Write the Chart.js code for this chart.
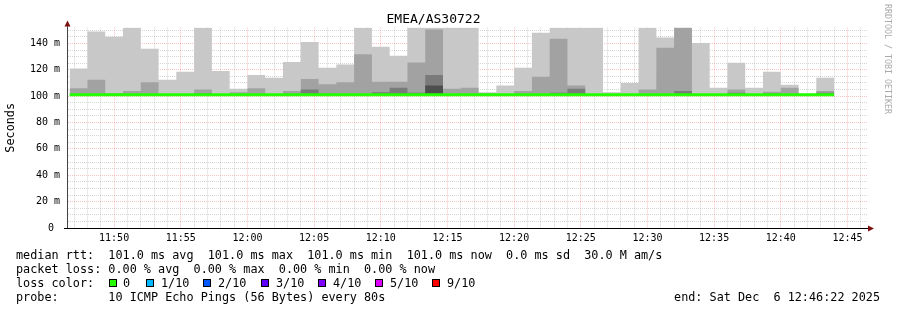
<!DOCTYPE html>
<html>
<head>
<meta charset="utf-8">
<script src="https://cdn.jsdelivr.net/npm/chart.js@4.4.0/dist/chart.umd.min.js"></script>
<style>
  body { margin: 0; background: #fff; }
  #wrap { position: relative; width: 897px; height: 310px; overflow: hidden; }
  #chartBox { position: absolute; left: 0; top: 0; width: 897px; height: 310px; }
  .mono { position: absolute; font-family: 'DejaVu Sans Mono', monospace; font-size: 11.8px; line-height: 14px; color: #000; white-space: pre; }
  .box { position: absolute; top: 279px; width: 6px; height: 6px; border: 1px solid #000; }
  #credit { position: absolute; left: 883px; top: 4px; writing-mode: vertical-rl; font-family: 'DejaVu Sans Mono', monospace; font-size: 8.3px; color: #aaa; white-space: pre; }
</style>
</head>
<body>
<div id="wrap">
  <div id="chartBox"><canvas id="smoke"></canvas></div>
  <div id="credit">RRDTOOL / TOBI OETIKER</div>
  <div class="mono" style="left:16px; top:248px;">median rtt:  101.0 ms avg  101.0 ms max  101.0 ms min  101.0 ms now  0.0 ms sd  30.0 M am/s
packet loss: 0.00 % avg  0.00 % max  0.00 % min  0.00 % now
loss color:
probe:       10 ICMP Echo Pings (56 Bytes) every 80s</div>
  <div class="mono" style="right:17px; top:290px;">end: Sat Dec  6 12:46:22 2025</div>
  <div id="lossLegend"></div>
</div>
<script>
// time window of the graph and sample layout (80 s steps)
const axisStart = '11:46:28';
const axisEnd = '12:46:28';
const sampleStart = '11:46:40';
const stepSeconds = 80;

// smoke bands, ms: outer pair (max), 2nd, 3rd, 4th pair tops
const maxRtt = [121, 149, 145, 152, 136, 112.5, 118.5, 152, 119, 105.6, 116, 114, 126, 141, 121.6,
  124, 152, 137.5, 130.7, 152, 152, 152, 152, 103, 108, 121.6, 148, 152, 152, 152, 103, 110, 152,
  144.4, 152, 140.3, 106.4, 125.4, 106.4, 118.5, 108.7, 101.8, 114];
const band2 = [106, 112.5, 102, 104, 110.5, 101.5, 101.5, 105, 101.5, 103, 106, 101.5, 104, 113, 109,
  110.5, 131.7, 111, 111, 125.6, 150.5, 105.6, 106.4, 102, 101.5, 104, 114.7, 143.6, 108, 101.5, 101,
  101.5, 105, 136.8, 152, 101, 101, 105, 101.5, 103.3, 106.4, 101, 104];
const band3 = [null, null, null, null, null, null, null, 102, null, null, null, null, null, 105, 102,
  null, null, 103, 106.4, 102.5, 116, null, null, null, null, null, null, 102.6, 105.6, null, null,
  null, null, null, 104, null, null, 102.6, null, 102, null, null, 102.6];
const band4 = [null, null, null, null, null, null, null, null, null, null, null, null, null, null, null,
  null, null, null, null, null, 108, null, null, null, null, null, null, null, null, null, null,
  null, null, null, null, null, null, null, null, null, null, null, null];
const medianRtt = [101, 101, 101, 101, 101, 101, 101, 101, 101, 101, 101, 101, 101, 101, 101,
  101, 101, 101, 101, 101, 101, 101, 101, 101, 101, 101, 101, 101, 101, 101, 101,
  101, 101, 101, 101, 101, 101, 101, 101, 101, 101, 101, 101];
const bandFloor = 100.5;

const yTicksMajor = 20;   // ms
const xTickMinor = 60;    // s
const xTickMajor = 300;   // s

const lossColors = [
  { label: '0', color: '#26ff00', boxX: 109, textX: 123 },
  { label: '1/10', color: '#00b8ff', boxX: 146, textX: 161 },
  { label: '2/10', color: '#0059ff', boxX: 203, textX: 218 },
  { label: '3/10', color: '#5e00ff', boxX: 261, textX: 276 },
  { label: '4/10', color: '#7e00ff', boxX: 318, textX: 333 },
  { label: '5/10', color: '#dd00ff', boxX: 375, textX: 390 },
  { label: '9/10', color: '#ff0000', boxX: 432, textX: 447 }
];

const toSec = s => { const [h, m, sec] = s.split(':').map(Number); return h * 3600 + m * 60 + sec; };
const pad2 = n => String(n).padStart(2, '0');
const t0 = toSec(sampleStart);
const xMin = toSec(axisStart);
const xMax = toSec(axisEnd);

function steps(values, floor) {
  const pts = values.map((v, i) => ({ x: t0 + i * stepSeconds, y: v ?? floor }));
  pts.push({ x: t0 + values.length * stepSeconds, y: pts[pts.length - 1].y });
  return pts;
}

const legendBox = document.getElementById('lossLegend');
lossColors.forEach(item => {
  const b = document.createElement('div');
  b.className = 'box';
  b.style.left = item.boxX + 'px';
  b.style.background = item.color;
  legendBox.appendChild(b);
  const t = document.createElement('div');
  t.className = 'mono';
  t.style.left = item.textX + 'px';
  t.style.top = '276px';
  t.textContent = item.label;
  legendBox.appendChild(t);
});

const band = (values, color) => ({
  data: steps(values, bandFloor),
  backgroundColor: color,
  borderWidth: 0,
  pointRadius: 0,
  stepped: true,
  fill: { value: bandFloor }
});

const axisArrows = {
  id: 'axisArrows',
  afterDraw(chart) {
    const { ctx, chartArea: a } = chart;
    ctx.save();
    ctx.lineWidth = 1;
    ctx.strokeStyle = '#444';
    ctx.beginPath();
    ctx.moveTo(a.left + 0.5, a.top);
    ctx.lineTo(a.left + 0.5, a.top - 4);
    ctx.stroke();
    ctx.strokeStyle = '#000';
    ctx.beginPath();
    ctx.moveTo(a.left - 3, a.bottom + 0.5);
    ctx.lineTo(a.right + 2, a.bottom + 0.5);
    ctx.stroke();
    ctx.fillStyle = '#7f1010';
    ctx.beginPath();
    ctx.moveTo(a.left + 0.5, a.top - 7);
    ctx.lineTo(a.left - 2.5, a.top - 1);
    ctx.lineTo(a.left + 3.5, a.top - 1);
    ctx.closePath();
    ctx.fill();
    ctx.beginPath();
    ctx.moveTo(a.right + 7, a.bottom + 0.5);
    ctx.lineTo(a.right + 1, a.bottom - 2.5);
    ctx.lineTo(a.right + 1, a.bottom + 3.5);
    ctx.closePath();
    ctx.fill();
    ctx.restore();
  }
};

const monoFont = { family: "'DejaVu Sans Mono', monospace", size: 10 };
const gridRed = 'rgba(240, 120, 120, 0.45)';
const gridGray = 'rgba(150, 150, 150, 0.4)';

new Chart(document.getElementById('smoke'), {
  type: 'line',
  data: {
    datasets: [
      { data: steps(medianRtt), borderColor: '#26ff00', borderWidth: 3, pointRadius: 0, stepped: true, fill: false },
      band(band4, '#4e4e4e'),
      band(band3, '#7a7a7a'),
      band(band2, '#a2a2a2'),
      band(maxRtt, '#c8c8c8')
    ]
  },
  options: {
    responsive: true,
    maintainAspectRatio: false,
    animation: false,
    layout: { padding: { left: 0, right: 30, top: 0, bottom: 62 } },
    plugins: {
      legend: { display: false },
      tooltip: { enabled: false },
      title: {
        display: true,
        text: 'EMEA/AS30722',
        color: '#000',
        font: { family: "'DejaVu Sans Mono', monospace", size: 13, weight: 'normal' },
        padding: { top: 12, bottom: 0 }
      }
    },
    scales: {
      x: {
        type: 'linear',
        min: xMin,
        max: xMax,
        z: 1,
        afterFit: s => { s.height = 20; },
        afterBuildTicks: s => {
          const t = [];
          for (let v = Math.ceil(xMin / xTickMinor) * xTickMinor; v <= xMax; v += xTickMinor) t.push({ value: v });
          s.ticks = t;
        },
        ticks: {
          autoSkip: false,
          maxRotation: 0,
          padding: 4,
          color: '#000',
          font: monoFont,
          callback: v => v % xTickMajor ? '' : pad2(Math.floor(v / 3600)) + ':' + pad2(Math.floor(v % 3600 / 60))
        },
        grid: {
          drawTicks: false,
          color: c => c.tick && c.tick.value % xTickMajor === 0 ? gridRed : gridGray
        },
        border: { display: true, color: '#000', dash: [1, 1] }
      },
      y: {
        type: 'linear',
        min: 0,
        max: 152,
        z: 1,
        afterFit: s => { s.width = 67; },
        title: {
          display: true,
          text: 'Seconds',
          color: '#000',
          font: { family: "'DejaVu Sans Mono', monospace", size: 11.8 },
          padding: { top: 4, bottom: 0 }
        },
        ticks: {
          stepSize: 5,
          autoSkip: false,
          includeBounds: false,
          padding: 7,
          color: '#000',
          font: monoFont,
          callback: v => v % yTicksMajor ? '' : (v === 0 ? '0 ' : v + ' m')
        },
        grid: {
          drawTicks: false,
          color: c => !c.tick || c.tick.value === 0 ? 'rgba(0,0,0,0)' : (c.tick.value % yTicksMajor === 0 ? gridRed : gridGray)
        },
        border: { display: true, color: '#444', dash: [1, 1] }
      }
    }
  },
  plugins: [axisArrows]
});
</script>
</body>
</html>
